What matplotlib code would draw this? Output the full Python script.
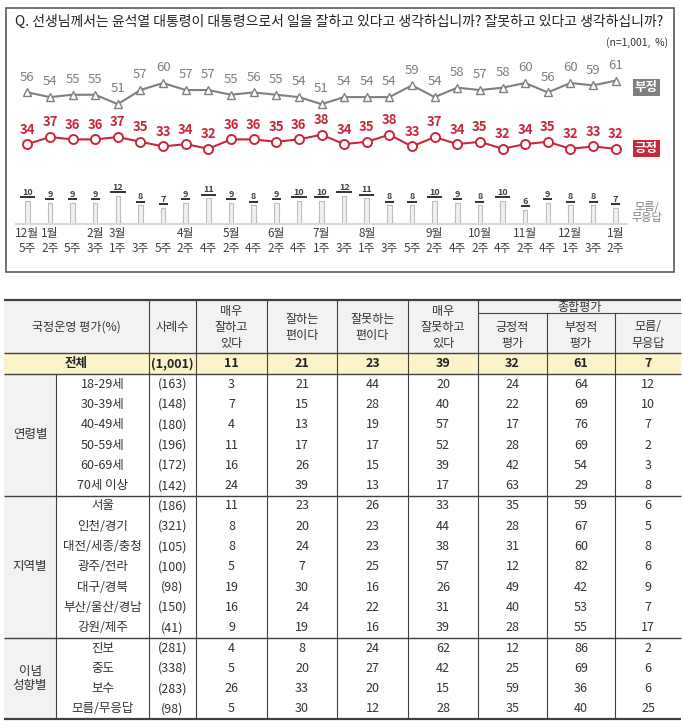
import matplotlib
matplotlib.use("Agg")
import matplotlib.pyplot as plt
import matplotlib.transforms as mtransforms
from matplotlib.patches import Rectangle

plt.rcParams['font.family'] = ['Noto Sans CJK KR', 'DejaVu Sans']

# ---- trend data (27 survey waves) ----
months = ["12월", "1월", "", "2월", "3월", "", "", "4월", "", "5월", "", "6월", "", "7월",
          "", "8월", "", "", "9월", "", "10월", "", "11월", "", "12월", "", "1월"]
weeks = ["5주", "2주", "5주", "3주", "1주", "3주", "5주", "2주", "4주", "2주", "4주", "2주", "4주", "1주",
         "3주", "1주", "3주", "5주", "2주", "4주", "2주", "4주", "2주", "4주", "1주", "3주", "2주"]
negative = [56, 54, 55, 55, 51, 57, 60, 57, 57, 55, 56, 55, 54, 51, 54, 54, 54, 59, 54, 58, 57, 58, 60, 56, 60, 59, 61]
positive = [34, 37, 36, 36, 37, 35, 33, 34, 32, 36, 36, 35, 36, 38, 34, 35, 38, 33, 37, 34, 35, 32, 34, 35, 32, 33, 32]
dont_know = [10, 9, 9, 9, 12, 8, 7, 9, 11, 9, 8, 9, 10, 10, 12, 11, 8, 8, 10, 9, 8, 10, 6, 9, 8, 8, 7]

# ---- table data ----
header_cols = ["매우\n잘하고\n있다", "잘하는\n편이다", "잘못하는\n편이다", "매우\n잘못하고\n있다",
               "긍정적\n평가", "부정적\n평가", "모름/\n무응답"]
total_n = "(1,001)"
total_vals = [11, 21, 23, 39, 32, 61, 7]
groups = ["연령별", "지역별", "이념\n성향별"]
row_labels = [
    ["18-29세", "30-39세", "40-49세", "50-59세", "60-69세", "70세 이상"],
    ["서울", "인천/경기", "대전/세종/충청", "광주/전라", "대구/경북", "부산/울산/경남", "강원/제주"],
    ["진보", "중도", "보수", "모름/무응답"],
]
row_n = [
    [163, 148, 180, 196, 172, 142],
    [186, 321, 105, 100, 98, 150, 41],
    [281, 338, 283, 98],
]
row_vals = [
    [[3, 21, 44, 20, 24, 64, 12], [7, 15, 28, 40, 22, 69, 10], [4, 13, 19, 57, 17, 76, 7],
     [11, 17, 17, 52, 28, 69, 2], [16, 26, 15, 39, 42, 54, 3], [24, 39, 13, 17, 63, 29, 8]],
    [[11, 23, 26, 33, 35, 59, 6], [8, 20, 23, 44, 28, 67, 5], [8, 24, 23, 38, 31, 60, 8],
     [5, 7, 25, 57, 12, 82, 6], [19, 30, 16, 26, 49, 42, 9], [16, 24, 22, 31, 40, 53, 7],
     [9, 19, 16, 39, 28, 55, 17]],
    [[4, 8, 24, 62, 12, 86, 2], [5, 20, 27, 42, 25, 69, 6], [26, 33, 20, 15, 59, 36, 6],
     [5, 30, 12, 28, 35, 40, 25]],
]

W, H = 683, 726
fig = plt.figure(figsize=(W / 100, H / 100), dpi=100)

GRAY = "#7f7f7f"
RED = "#c8283c"
DARK = "#333333"

# ---- background axes in pixel units for the frame and the table ----
bg = fig.add_axes([0, 0, 1, 1])
bg.set_xlim(0, W)
bg.set_ylim(H, 0)
bg.axis("off")

bg.add_patch(Rectangle((6, 8), 668, 264, fill=False, ec="#595959", lw=1.2))
bg.text(15, 22, "Q. 선생님께서는 윤석열 대통령이 대통령으로서 일을 잘하고 있다고 생각하십니까? 잘못하고 있다고 생각하십니까?",
        fontsize=10, color="#222222", ha="left", va="center")
bg.text(668, 43, "(n=1,001,  %)", fontsize=7.5, color=DARK, ha="right", va="center")

# ---- trend chart ----
ax = fig.add_axes([16 / W, (H - 224) / H, 611 / W, 70 * 2.35 / H])
ax.set_facecolor("none")
x = list(range(len(weeks)))
ax.set_xlim(-0.5, len(weeks) - 0.5)
ax.set_ylim(0, 70)

ax.bar(x, dont_know, width=0.2, color="#f0f0f0", edgecolor="#bdbdbd", linewidth=0.8)
ax.plot(x, negative, color=GRAY, lw=1.5, marker="^", ms=5.5, mfc="white", mec=GRAY, mew=1.0)
ax.plot(x, positive, color=RED, lw=1.5, marker="o", ms=6.5, mfc="white", mec=RED, mew=1.4)

for i in x:
    ax.annotate(str(negative[i]), (i, negative[i]), xytext=(0, 11), textcoords="offset points",
                ha="center", va="center", fontsize=9.5, color=GRAY)
    ax.annotate(str(positive[i]), (i, positive[i]), xytext=(0, 10.5), textcoords="offset points",
                ha="center", va="center", fontsize=9.5, color=RED, fontweight="bold")
    ax.annotate(str(dont_know[i]), (i, dont_know[i]), xytext=(0, 6), textcoords="offset points",
                ha="center", va="center", fontsize=6.5, color="#404040", style="italic", fontweight="bold")
    half = 0.14 * len(str(dont_know[i])) + 0.06
    under = mtransforms.offset_copy(ax.transData, fig=fig, y=2.6, units="points")
    ax.plot([i - half, i + half], [dont_know[i], dont_know[i]], color="#222222", lw=1.3,
            transform=under, solid_capstyle="butt")

ax.annotate("부정", (x[-1], negative[-1]), xytext=(22, -5), textcoords="offset points",
            ha="center", va="center", fontsize=9, color="white", fontweight="bold",
            bbox=dict(boxstyle="square,pad=0.15", fc=GRAY, ec="none"))
ax.annotate("긍정", (x[-1], positive[-1]), xytext=(22, 0), textcoords="offset points",
            ha="center", va="center", fontsize=9, color="white", fontweight="bold",
            bbox=dict(boxstyle="square,pad=0.15", fc=RED, ec="none"))
ax.annotate("모름/\n무응답", (x[-1], 0), xytext=(22.5, 8.6), textcoords="offset points",
            ha="center", va="center", fontsize=8, color=GRAY, linespacing=1.1)

for s in ["left", "right", "top"]:
    ax.spines[s].set_visible(False)
ax.spines["bottom"].set_color("#d9d9d9")
ax.spines["bottom"].set_linewidth(1.5)
ax.set_yticks([])
ax.set_xticks(x)
ax.set_xticklabels([m + "\n" + w for m, w in zip(months, weeks)], fontsize=8.5, color="#404040",
                   linespacing=1.25)
ax.tick_params(axis="x", length=0, pad=2)

# ---- table ----
col_edges = [4, 56, 149, 196, 267, 337, 408, 478, 547, 615, 681]
val_centers = [(col_edges[k] + col_edges[k + 1]) / 2 for k in range(3, 10)]
top, head_bot, total_bot = 300, 353, 374
row_h = 20.3
LINE = "#404040"

bg.add_patch(Rectangle((col_edges[0], top), col_edges[-1] - col_edges[0], head_bot - top,
                       fc="#f2f2f2", ec="none"))
bg.add_patch(Rectangle((col_edges[0], head_bot), col_edges[-1] - col_edges[0], total_bot - head_bot,
                       fc="#fdf3c8", ec="none"))
n_rows = sum(len(r) for r in row_labels)
bottom = total_bot + n_rows * row_h
bg.add_patch(Rectangle((col_edges[0], total_bot), col_edges[1] - col_edges[0], bottom - total_bot,
                       fc="#f2f2f2", ec="none"))

# header text
bg.text((col_edges[0] + col_edges[2]) / 2, 327, "국정운영 평가(%)", fontsize=8.7, color=DARK,
        ha="center", va="center")
bg.text((col_edges[2] + col_edges[3]) / 2, 327, "사례수", fontsize=8.7, color=DARK, ha="center", va="center")
for k, lab in enumerate(header_cols):
    y = 327 if k < 4 else 335
    bg.text(val_centers[k], y, lab, fontsize=8.7, color=DARK, ha="center", va="center", linespacing=1.3)
bg.text((col_edges[7] + col_edges[10]) / 2, 307, "종합평가", fontsize=8.7, color=DARK, ha="center", va="center")

# total row
ty = (head_bot + total_bot) / 2
bg.text((col_edges[0] + col_edges[2]) / 2, ty, "전체", fontsize=9, fontweight="bold", color="#222222",
        ha="center", va="center")
bg.text((col_edges[2] + col_edges[3]) / 2, ty, total_n, fontsize=9, fontweight="bold", color="#222222",
        ha="center", va="center")
for k, v in enumerate(total_vals):
    bg.text(val_centers[k], ty, str(v), fontsize=9, fontweight="bold", color="#222222",
            ha="center", va="center")

# body rows
y0 = total_bot
separators = []
for g, grp in enumerate(groups):
    nr = len(row_labels[g])
    bg.text((col_edges[0] + col_edges[1]) / 2, y0 + nr * row_h / 2, grp, fontsize=9, color=DARK,
            ha="center", va="center", linespacing=1.2)
    for r in range(nr):
        cy = y0 + (r + 0.5) * row_h
        bg.text((col_edges[1] + col_edges[2]) / 2, cy, row_labels[g][r], fontsize=9, color=DARK,
                ha="center", va="center")
        bg.text((col_edges[2] + col_edges[3]) / 2, cy, "(%d)" % row_n[g][r], fontsize=9, color=DARK,
                ha="center", va="center")
        for k, v in enumerate(row_vals[g][r]):
            bg.text(val_centers[k], cy, str(v), fontsize=9, color=DARK, ha="center", va="center")
    y0 += nr * row_h
    separators.append(y0)

# lines
bg.hlines(top, col_edges[0], col_edges[-1], color=LINE, lw=1.6)
bg.hlines(313, col_edges[7], col_edges[-1], color=LINE, lw=0.8)
bg.hlines([head_bot, total_bot], col_edges[0], col_edges[-1], color=LINE, lw=1.0)
bg.hlines(separators[:-1], col_edges[0], col_edges[-1], color=LINE, lw=1.0)
bg.hlines(bottom, col_edges[0], col_edges[-1], color=LINE, lw=1.6)
bg.vlines(col_edges[1], total_bot, bottom, color=LINE, lw=0.8)
bg.vlines(col_edges[2:8], top, bottom, color=LINE, lw=0.8)
bg.vlines(col_edges[8:10], 313, bottom, color=LINE, lw=0.8)

fig.savefig("out.png", dpi=100)
